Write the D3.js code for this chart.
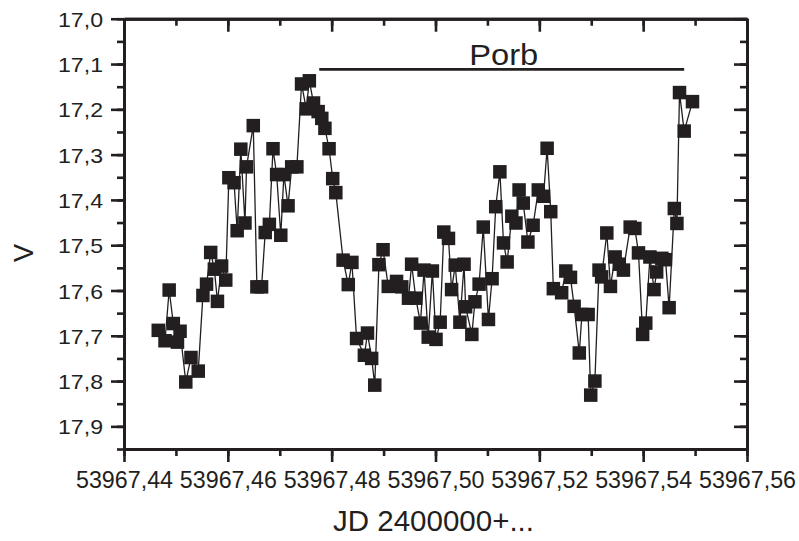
<!DOCTYPE html>
<html>
<head>
<meta charset="utf-8">
<script src="https://cdn.jsdelivr.net/npm/d3@7"></script>
<style>
  body { margin: 0; background: #fff; }
  svg text { font-family: "Liberation Sans", Arial, sans-serif; fill: #231f20; }
</style>
</head>
<body>
<div id="chart"></div>
<script>
const jd = [
  53967.4466, 53967.4479, 53967.4487, 53967.4495, 53967.4503, 53967.4508,
  53967.4519, 53967.4529, 53967.4543, 53967.4552, 53967.4559, 53967.4567,
  53967.4574, 53967.4580, 53967.4588, 53967.4596, 53967.4602, 53967.4612,
  53967.4618, 53967.4625, 53967.4633, 53967.4636, 53967.4649, 53967.4656,
  53967.4665, 53967.4672, 53967.4680, 53967.4687, 53967.4694, 53967.4702,
  53967.4708, 53967.4716, 53967.4723, 53967.4733, 53967.4742, 53967.4751,
  53967.4757, 53967.4765, 53967.4774, 53967.4781, 53967.4787, 53967.4795,
  53967.4802, 53967.4808, 53967.4822, 53967.4832, 53967.4839, 53967.4848,
  53967.4863, 53967.4869, 53967.4877, 53967.4883, 53967.4891, 53967.4899,
  53967.4909, 53967.4925, 53967.4935, 53967.4948, 53967.4954, 53967.4962,
  53967.4971, 53967.4978, 53967.4986, 53967.4994, 53967.5001, 53967.5009,
  53967.5016, 53967.5025, 53967.5031, 53967.5038, 53967.5047, 53967.5055,
  53967.5058, 53967.5070, 53967.5076, 53967.5084, 53967.5092, 53967.5102,
  53967.5109, 53967.5116, 53967.5124, 53967.5131, 53967.5138, 53967.5147,
  53967.5155, 53967.5161, 53967.5169, 53967.5178, 53967.5188, 53967.5198,
  53967.5208, 53967.5215, 53967.5222, 53967.5227, 53967.5243, 53967.5251,
  53967.5260, 53967.5267, 53967.5277, 53967.5282, 53967.5294, 53967.5299,
  53967.5307, 53967.5315, 53967.5320, 53967.5330, 53967.5337, 53967.5346,
  53967.5354, 53967.5362, 53967.5375, 53967.5384, 53967.5391, 53967.5399,
  53967.5405, 53967.5413, 53967.5421, 53967.5426, 53967.5436, 53967.5443,
  53967.5450, 53967.5460, 53967.5465, 53967.5470, 53967.5479, 53967.5495
];
const vmag = [
  17.688, 17.711, 17.599, 17.673, 17.714, 17.690,
  17.802, 17.748, 17.778, 17.611, 17.586, 17.516,
  17.553, 17.624, 17.546, 17.577, 17.351, 17.362,
  17.468, 17.288, 17.451, 17.327, 17.236, 17.592,
  17.592, 17.472, 17.454, 17.287, 17.344, 17.478,
  17.344, 17.413, 17.327, 17.327, 17.144, 17.199,
  17.137, 17.186, 17.205, 17.220, 17.242, 17.287,
  17.353, 17.384, 17.533, 17.587, 17.538, 17.706,
  17.743, 17.694, 17.750, 17.809, 17.543, 17.510,
  17.591, 17.580, 17.592, 17.617, 17.542, 17.617,
  17.672, 17.555, 17.703, 17.557, 17.708, 17.670,
  17.471, 17.485, 17.598, 17.544, 17.670, 17.542,
  17.636, 17.697, 17.625, 17.586, 17.460, 17.664,
  17.574, 17.415, 17.338, 17.495, 17.537, 17.436,
  17.451, 17.378, 17.407, 17.493, 17.456, 17.378,
  17.392, 17.286, 17.426, 17.596, 17.605, 17.557,
  17.571, 17.635, 17.738, 17.653, 17.653, 17.831,
  17.800, 17.555, 17.570, 17.473, 17.591, 17.526,
  17.542, 17.555, 17.460, 17.463, 17.517, 17.697,
  17.672, 17.526, 17.598, 17.559, 17.529, 17.532,
  17.638, 17.419, 17.452, 17.163, 17.248, 17.183
];

// orbital period bar
const porbRange = [53967.4776, 53967.5479];
const porbLevel = 17.112;
const porbLabel = "Porb";

const xTicksMajor = [53967.44, 53967.46, 53967.48, 53967.50, 53967.52, 53967.54, 53967.56];
const xTicksMinor = d3.range(0, 13).map((i) => 53967.44 + i * 0.01);
const yTicksMajor = d3.range(0, 10).map((i) => 17.0 + i * 0.1);
const yTicksMinor = d3.range(0, 20).map((i) => 17.0 + i * 0.05);

const xTitle = "JD 2400000+...";
const yTitle = "V";

const width = 799,
  height = 541;
const margin = { left: 124, top: 18.75, right: 52, bottom: 92 };
const ink = "#231f20";

const x = d3
  .scaleLinear()
  .domain([53967.44, 53967.56])
  .range([margin.left, width - margin.right]);
const y = d3
  .scaleLinear()
  .domain([17.0, 17.95])
  .range([margin.top, height - margin.bottom]);

const comma = (f) => (d) => f(d).replace(".", ",");

const svg = d3
  .select("#chart")
  .append("svg")
  .attr("width", width)
  .attr("height", height)
  .attr("viewBox", [0, 0, width, height]);

function styleAxis(g) {
  g.select(".domain").attr("stroke", ink).attr("stroke-width", 3);
  g.selectAll(".tick line").attr("stroke", ink).attr("stroke-width", 2.6);
}

const y0 = height - margin.bottom;
const x1 = width - margin.right;

// bottom axis (ticks outward)
svg.append("g")
  .attr("transform", `translate(0,${y0})`)
  .call(d3.axisBottom(x).tickValues(xTicksMinor).tickSize(7).tickFormat("").tickSizeOuter(0))
  .call(styleAxis);
svg.append("g")
  .attr("transform", `translate(0,${y0})`)
  .call(d3.axisBottom(x).tickValues(xTicksMajor).tickSize(13).tickPadding(8)
    .tickFormat(comma(d3.format(".2f"))).tickSizeOuter(0))
  .call(styleAxis)
  .call((g) => g.selectAll(".tick text")
    .attr("font-size", 24)
    .attr("fill", ink)
    .attr("y", 39)
    .attr("dy", 0)
    .attr("textLength", 97)
    .attr("lengthAdjust", "spacingAndGlyphs"));

// left axis (ticks outward)
svg.append("g")
  .attr("transform", `translate(${margin.left},0)`)
  .call(d3.axisLeft(y).tickValues(yTicksMinor).tickSize(7).tickFormat("").tickSizeOuter(0))
  .call(styleAxis);
svg.append("g")
  .attr("transform", `translate(${margin.left},0)`)
  .call(d3.axisLeft(y).tickValues(yTicksMajor).tickSize(13).tickPadding(8)
    .tickFormat(comma(d3.format(".1f"))).tickSizeOuter(0))
  .call(styleAxis)
  .call((g) => g.selectAll(".tick text")
    .attr("font-size", 21)
    .attr("fill", ink)
    .attr("dy", "0.36em")
    .attr("textLength", 45)
    .attr("lengthAdjust", "spacingAndGlyphs"));

// top and right frame, ticks inward
svg.append("g")
  .attr("transform", `translate(0,${margin.top})`)
  .call(d3.axisBottom(x).tickValues(xTicksMinor).tickSize(7).tickFormat("").tickSizeOuter(0))
  .call(styleAxis);
svg.append("g")
  .attr("transform", `translate(0,${margin.top})`)
  .call(d3.axisBottom(x).tickValues(xTicksMajor).tickSize(13).tickFormat("").tickSizeOuter(0))
  .call(styleAxis);
svg.append("g")
  .attr("transform", `translate(${x1},0)`)
  .call(d3.axisLeft(y).tickValues(yTicksMinor).tickSize(7).tickFormat("").tickSizeOuter(0))
  .call(styleAxis);
svg.append("g")
  .attr("transform", `translate(${x1},0)`)
  .call(d3.axisLeft(y).tickValues(yTicksMajor).tickSize(13).tickFormat("").tickSizeOuter(0))
  .call(styleAxis);

// axis titles
svg.append("text")
  .attr("x", (margin.left + x1) / 2 - 2)
  .attr("y", 531)
  .attr("text-anchor", "middle")
  .attr("font-size", 29)
  .attr("textLength", 201)
  .attr("lengthAdjust", "spacingAndGlyphs")
  .text(xTitle);

svg.append("text")
  .attr("transform", `translate(33,253) rotate(-90)`)
  .attr("text-anchor", "middle")
  .attr("font-size", 27)
  .text(yTitle);

// data: thin connecting line + square markers
const points = jd.map((t, i) => [t, vmag[i]]);
const line = d3.line().x((d) => x(d[0])).y((d) => y(d[1]));

svg.append("path")
  .datum(points)
  .attr("d", line)
  .attr("fill", "none")
  .attr("stroke", ink)
  .attr("stroke-width", 1.3);

const s = 13.5;
svg.append("g")
  .selectAll("rect")
  .data(points)
  .join("rect")
  .attr("x", (d) => x(d[0]) - s / 2)
  .attr("y", (d) => y(d[1]) - s / 2)
  .attr("width", s)
  .attr("height", s)
  .attr("fill", ink);

// Porb annotation
svg.append("line")
  .attr("x1", x(porbRange[0]))
  .attr("x2", x(porbRange[1]))
  .attr("y1", y(porbLevel))
  .attr("y2", y(porbLevel))
  .attr("stroke", ink)
  .attr("stroke-width", 2.8);

svg.append("text")
  .attr("x", (x(porbRange[0]) + x(porbRange[1])) / 2 + 2)
  .attr("y", y(porbLevel) - 4.5)
  .attr("text-anchor", "middle")
  .attr("font-size", 30)
  .attr("textLength", 69)
  .attr("lengthAdjust", "spacingAndGlyphs")
  .text(porbLabel);
</script>
</body>
</html>
